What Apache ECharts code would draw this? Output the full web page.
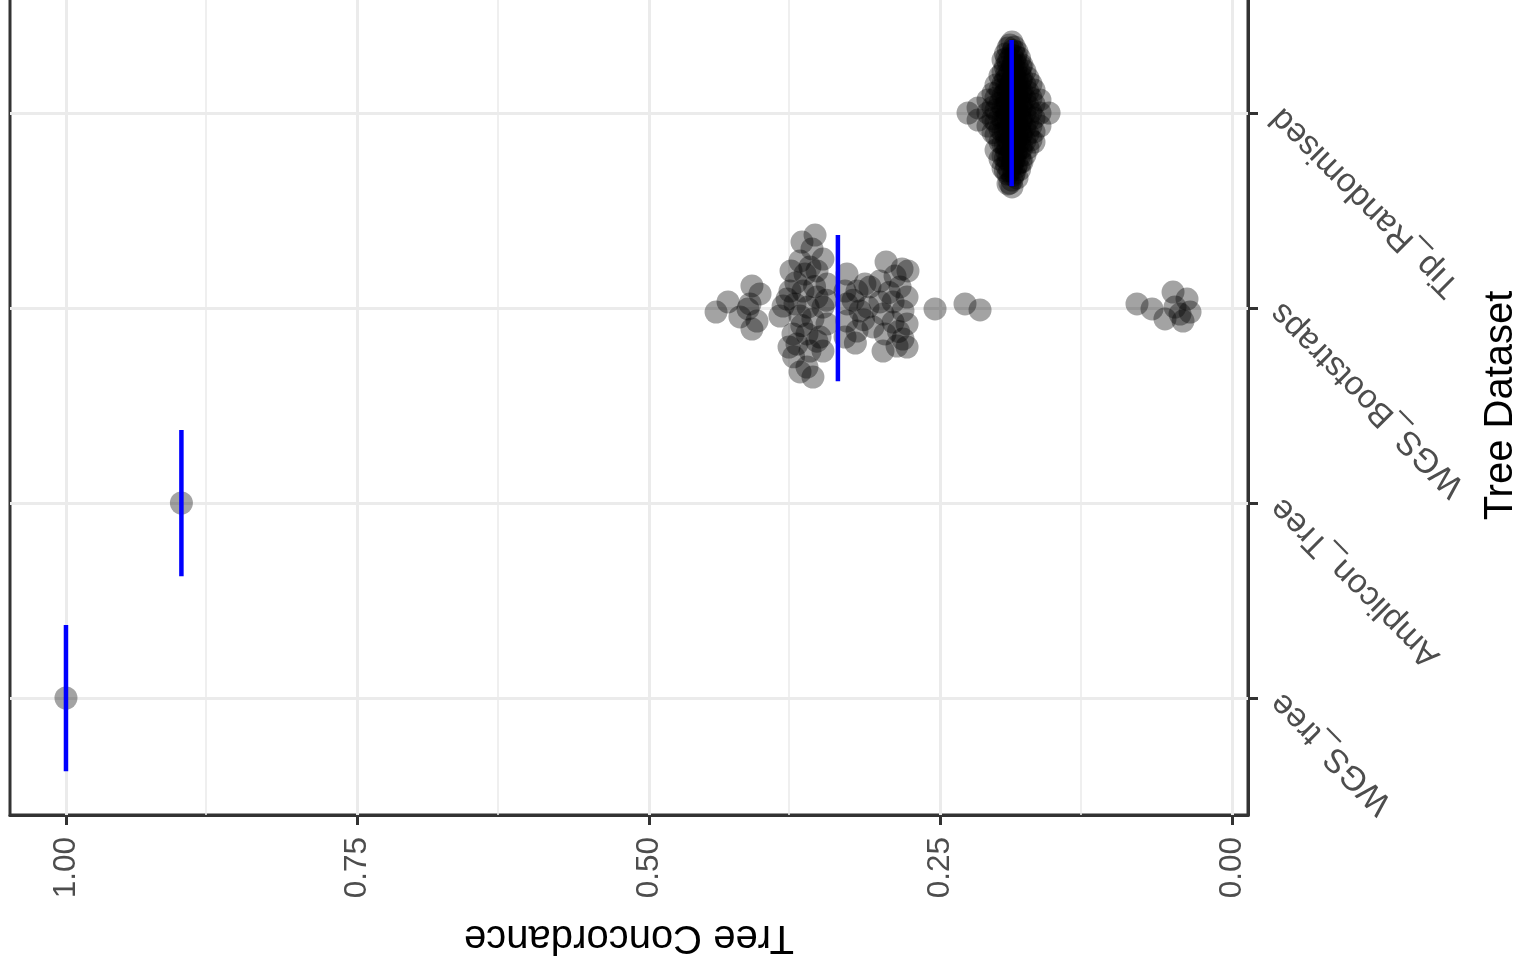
<!DOCTYPE html>
<html>
<head>
<meta charset="utf-8">
<script src="https://cdn.jsdelivr.net/npm/echarts@6/dist/echarts.min.js"></script>
<style>
html,body{margin:0;padding:0;background:#fff;}
#chart{width:1517px;height:970px;}
</style>
</head>
<body>
<div id="chart"></div>
<script>
// Categories (bottom to top)
const categories = ['WGS_tree', 'Amplicon_Tree', 'WGS_Bootstraps', 'Tip_Randomised'];
// Value-axis tick labels
const xTicks = [0, 0.25, 0.5, 0.75, 1.0];
const xMinorTicks = [0.125, 0.375, 0.625, 0.875];
// Medians (blue bars)
const medians = [1.0, 0.901, 0.338, 0.189];

// Points: [Tree Concordance, swarm offset in category units]
const wgsTreePts = [[1.0, 0]];
const ampliconPts = [[0.901, 0]];
const bootstrapPts = [
  [0.4425,-0.021],[0.4322,0.031],[0.4220,-0.046],[0.4117,0.113],[0.4048,0.072],
  [0.4134,0.021],[0.4074,-0.067],[0.4117,-0.108],[0.4151,-0.005],
  [0.3576,0.374],[0.3688,0.338],[0.3602,0.303],[0.3508,0.251],[0.3705,0.241],
  [0.3782,0.190],[0.3662,0.174],[0.3559,0.190],[0.3473,0.123],[0.3791,0.087],
  [0.3679,0.087],[0.3559,0.056],[0.3748,0.021],[0.3636,0.005],[0.3508,0.005],
  [0.3705,-0.041],[0.3594,-0.056],[0.3473,-0.082],[0.3765,-0.133],[0.3645,-0.133],
  [0.3533,-0.149],[0.3731,-0.185],[0.3619,-0.221],[0.3508,-0.221],[0.3705,-0.328],
  [0.3594,-0.354],[0.3645,-0.303],[0.3816,0.046],[0.3877,-0.041],[0.3799,-0.200],
  [0.3620,0.210],[0.3740,0.130],[0.3580,0.110],[0.3690,-0.090],[0.3560,-0.170],
  [0.3760,-0.250],[0.3480,0.040],[0.3850,0.010],
  [0.3302,0.174],[0.3216,0.087],[0.3302,0.021],[0.3190,-0.015],[0.3302,-0.067],
  [0.3216,-0.118],[0.3319,-0.149],[0.3319,0.087],[0.3148,0.123],
  [0.3250,0.040],[0.3160,-0.060],[0.3230,-0.180],
  [0.2967,0.236],[0.2830,0.200],[0.2779,0.190],[0.2890,0.164],[0.3019,0.138],
  [0.3105,0.108],[0.2847,0.108],[0.2787,0.056],[0.3019,0.031],[0.2907,0.031],
  [0.3122,0.005],[0.2822,-0.015],[0.2993,-0.031],[0.2787,-0.082],[0.2907,-0.072],
  [0.3079,-0.097],[0.2976,-0.133],[0.2822,-0.159],[0.2787,-0.200],[0.2873,-0.195],
  [0.2993,-0.221],[0.2940,0.080],[0.2860,-0.120],
  [0.2547,-0.005],[0.2290,0.021],[0.2161,-0.010],
  [0.0815,0.021],[0.0686,-0.005],[0.0575,-0.056],[0.0506,0.082],[0.0489,0.005],
  [0.0386,0.046],[0.0360,-0.021],[0.0420,-0.067],[0.0446,-0.031]
];
const tipPts = [
  [0.2264,0],
  [0.2178,0.026],[0.2178,-0.036],
  [0.2093,0.067],[0.2093,0],[0.2093,-0.067],
  [0.2050,0.100],[0.2050,0.030],[0.2050,-0.030],[0.2050,-0.100],
  [0.2024,0.144],[0.2024,0.077],[0.2024,0.015],[0.2024,-0.046],[0.2024,-0.113],[0.2024,-0.190],
  [0.1990,0.190],[0.1990,0.118],[0.1990,0.051],[0.1990,-0.015],[0.1990,-0.082],[0.1990,-0.149],[0.1990,-0.236],
  [0.1964,0.272],[0.1964,0.210],[0.1964,0.149],[0.1964,0.087],[0.1964,0.026],
  [0.1964,-0.036],[0.1964,-0.097],[0.1964,-0.159],[0.1964,-0.221],[0.1964,-0.282],
  [0.1943,0.303],[0.1943,0.236],[0.1943,0.169],[0.1943,0.102],[0.1943,0.036],
  [0.1943,-0.031],[0.1943,-0.097],[0.1943,-0.164],[0.1943,-0.231],[0.1943,-0.297],
  [0.1932,0.280],[0.1932,0.200],[0.1932,0.130],[0.1932,0.060],[0.1932,-0.010],
  [0.1932,-0.130],[0.1932,-0.200],[0.1932,-0.270],
  [0.1921,0.333],[0.1921,0.262],[0.1921,0.190],[0.1921,0.118],[0.1921,0.046],[0.1921,-0.026],
  [0.1921,-0.097],[0.1921,-0.169],[0.1921,-0.241],[0.1921,-0.313],[0.1921,-0.364],
  [0.1905,0.349],[0.1905,0.277],[0.1905,0.205],[0.1905,0.133],[0.1905,0.062],[0.1905,-0.010],
  [0.1905,-0.082],[0.1905,-0.154],[0.1905,-0.226],[0.1905,-0.297],[0.1905,-0.359],
  [0.1887,0.364],[0.1887,0.297],[0.1887,0.231],[0.1887,0.159],[0.1887,0.087],[0.1887,0.015],
  [0.1887,-0.056],[0.1887,-0.128],[0.1887,-0.200],[0.1887,-0.272],[0.1887,-0.344],[0.1887,-0.379],
  [0.1876,0.320],[0.1876,0.250],[0.1876,0.180],[0.1876,0.110],[0.1876,0.040],
  [0.1876,-0.030],[0.1876,-0.110],[0.1876,-0.180],[0.1876,-0.250],[0.1876,-0.320],
  [0.1866,0.338],[0.1866,0.267],[0.1866,0.195],[0.1866,0.123],[0.1866,0.051],
  [0.1866,-0.021],[0.1866,-0.092],[0.1866,-0.164],[0.1866,-0.236],[0.1866,-0.308],
  [0.1855,0.290],[0.1855,0.220],[0.1855,0.150],[0.1855,0.080],[0.1855,0.010],
  [0.1855,-0.070],[0.1855,-0.140],[0.1855,-0.210],[0.1855,-0.280],
  [0.1844,0.313],[0.1844,0.241],[0.1844,0.169],[0.1844,0.097],[0.1844,0.026],
  [0.1844,-0.046],[0.1844,-0.118],[0.1844,-0.190],[0.1844,-0.262],[0.1844,-0.333],
  [0.1822,0.282],[0.1822,0.210],[0.1822,0.138],[0.1822,0.067],[0.1822,-0.005],
  [0.1822,-0.077],[0.1822,-0.149],[0.1822,-0.221],[0.1822,-0.290],
  [0.1812,0.240],[0.1812,0.170],[0.1812,0.100],[0.1812,0.030],[0.1812,-0.040],
  [0.1812,-0.110],[0.1812,-0.180],[0.1812,-0.250],
  [0.1801,0.246],[0.1801,0.179],[0.1801,0.108],[0.1801,0.036],[0.1801,-0.036],
  [0.1801,-0.108],[0.1801,-0.179],[0.1801,-0.251],
  [0.1776,0.215],[0.1776,0.144],[0.1776,0.072],[0.1776,0],[0.1776,-0.072],[0.1776,-0.144],[0.1776,-0.215],
  [0.1750,0.179],[0.1750,0.108],[0.1750,0.036],[0.1750,-0.036],[0.1750,-0.108],[0.1750,-0.179],
  [0.1724,0.149],[0.1724,0.077],[0.1724,0.005],[0.1724,-0.067],[0.1724,-0.138],
  [0.1698,0.118],[0.1698,0.046],[0.1698,-0.026],[0.1698,-0.097],[0.1698,-0.149],
  [0.1647,0.067],[0.1647,0],[0.1647,-0.067],
  [0.1569,0]
];
const groups = [wgsTreePts, ampliconPts, bootstrapPts, tipPts];

const FONT = 'Liberation Sans, Arial, Helvetica, sans-serif';
const scatterData = [];
groups.forEach((pts, i) => {
  pts.forEach(p => scatterData.push([p[0], (i + 1) + p[1]]));
});

const gridLines = [];
xTicks.forEach(v => gridLines.push({xAxis: v, lineStyle: {width: 3}}));
xMinorTicks.forEach(v => gridLines.push({xAxis: v, lineStyle: {width: 1.6}}));
categories.forEach((c, i) => gridLines.push({yAxis: i + 1, lineStyle: {width: 3}}));

const medianSeries = medians.map((m, i) => ({
  type: 'line',
  data: [[m, (i + 1) - 0.375], [m, (i + 1) + 0.375]],
  symbol: 'none',
  lineStyle: {color: '#0000FF', width: 4.5, cap: 'butt'},
  z: 5,
  silent: true
}));

const chart = echarts.init(document.getElementById('chart'), null, {renderer: 'canvas'});
chart.setOption({
  animation: false,
  backgroundColor: '#ffffff',
  grid: {
    left: 10, right: 269, top: -4, bottom: 155,
    show: true, borderColor: '#333333', borderWidth: 3, backgroundColor: 'transparent',
    containLabel: false,
    outerBoundsMode: 'none'
  },
  xAxis: {
    type: 'value',
    inverse: true,
    min: -0.0137, max: 1.048,
    position: 'bottom',
    name: 'Tree Concordance',
    nameLocation: 'middle',
    nameRotate: 180,
    nameGap: 102,
    nameTextStyle: {fontFamily: FONT, fontSize: 40, color: '#000000'},
    axisLine: {show: true, onZero: false, lineStyle: {color: '#333333', width: 3}},
    axisTick: {show: true, customValues: xTicks, length: 10, lineStyle: {color: '#333333', width: 3}},
    axisLabel: {
      show: true, customValues: xTicks, rotate: 90, margin: 22,
      fontFamily: FONT, fontSize: 31.5, color: '#4D4D4D',
      formatter: v => Number(v).toFixed(2)
    },
    splitLine: {show: false}
  },
  yAxis: {
    type: 'value',
    min: 0.4, max: 4.6,
    position: 'right',
    name: 'Tree Dataset',
    nameLocation: 'middle',
    nameRotate: 90,
    nameGap: 230,
    nameTextStyle: {fontFamily: FONT, fontSize: 40, color: '#000000'},
    axisLine: {show: true, onZero: false, lineStyle: {color: '#333333', width: 3}},
    axisTick: {show: true, customValues: [1, 2, 3, 4], length: 10, lineStyle: {color: '#333333', width: 3}},
    axisLabel: {
      show: true, customValues: [1, 2, 3, 4], rotate: 135, margin: 28,
      fontFamily: FONT, fontSize: 33.5, color: '#4D4D4D',
      formatter: v => categories[Math.round(v) - 1] || ''
    },
    splitLine: {show: false}
  },
  series: [
    {
      type: 'scatter',
      data: [],
      silent: true,
      z: 1,
      markLine: {
        z: 1,
        silent: true,
        symbol: ['none', 'none'],
        label: {show: false},
        lineStyle: {color: '#EBEBEB', type: 'solid'},
        data: gridLines,
        animation: false
      }
    },
    {
      type: 'scatter',
      data: scatterData,
      symbol: 'circle',
      symbolSize: 23,
      itemStyle: {color: 'rgba(0,0,0,0.45)'},
      z: 3,
      silent: true
    }
  ].concat(medianSeries)
});
</script>
</body>
</html>
